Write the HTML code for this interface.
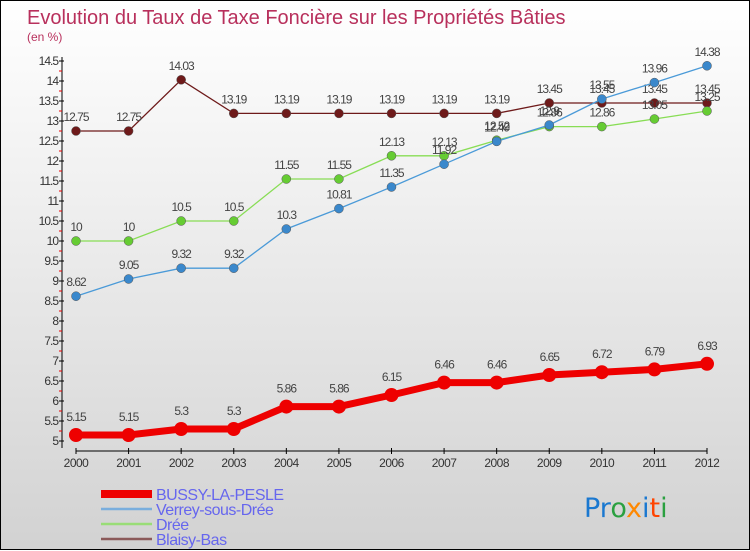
<!DOCTYPE html>
<html><head><meta charset="utf-8"><style>
html,body{margin:0;padding:0}
body{width:750px;height:550px;overflow:hidden;font-family:"Liberation Sans",sans-serif}
#wrap{position:relative;width:748px;height:548px;border:1px solid #000;background:linear-gradient(#ffffff 0%,#f2f2f2 30%,#d2d2d2 100%)}
svg{position:absolute;left:0;top:0}
</style></head><body>
<div id="wrap">
<svg id="chart" width="750" height="550">
<text x="26" y="23" font-size="20" fill="#b8305c">Evolution du Taux de Taxe Foncière sur les Propriétés Bâties</text>
<text x="26" y="40" font-size="12" fill="#b8305c">(en %)</text>
<g id="axes"></g><g id="series"></g><g id="legend"></g>
<text x="583" y="516" font-size="27" font-family="DejaVu Sans, sans-serif"><tspan fill="#1a78d0">Pr</tspan><tspan fill="#2aa040">o</tspan><tspan fill="#ff8800">x</tspan><tspan fill="#1a78d0">i</tspan><tspan fill="#ff4400">t</tspan><tspan fill="#2aa040">i</tspan></text>
</svg></div>
<script>
const years=["2000","2001","2002","2003","2004","2005","2006","2007","2008","2009","2010","2011","2012"];
const yTicks=[5,5.5,6,6.5,7,7.5,8,8.5,9,9.5,10,10.5,11,11.5,12,12.5,13,13.5,14,14.5];
const bussy=[5.15,5.15,5.3,5.3,5.86,5.86,6.15,6.46,6.46,6.65,6.72,6.79,6.93];
const verrey=[8.62,9.05,9.32,9.32,10.3,10.81,11.35,11.92,12.49,12.9,13.55,13.96,14.38];
const dree=[10,10,10.5,10.5,11.55,11.55,12.13,12.13,12.52,12.86,12.86,13.05,13.25];
const blaisy=[12.75,12.75,14.03,13.19,13.19,13.19,13.19,13.19,13.19,13.45,13.45,13.45,13.45];
const seriesNames=["BUSSY-LA-PESLE","Verrey-sous-Drée","Drée","Blaisy-Bas"];
const NS="http://www.w3.org/2000/svg";
const x=i=>75+i*(631/12);
const y=v=>440-(v-5)*40;
function mk(tag,attrs,parent){const e=document.createElementNS(NS,tag);for(const k in attrs)e.setAttribute(k,attrs[k]);parent.appendChild(e);return e;}
const axes=document.getElementById('axes');
let l=mk('line',{x1:61,y1:56,x2:61,y2:447,stroke:'#000'},axes);


l=mk('line',{x1:75,y1:450,x2:706,y2:450,stroke:'#000'},axes);


yTicks.forEach((v,i)=>{
  const yy=y(v);
  mk('line',{x1:58,y1:yy,x2:63,y2:yy,stroke:'#000'},axes);
  if(i<yTicks.length-1)mk('line',{x1:58,y1:yy-10,x2:61,y2:yy-10,stroke:'#e00'},axes);
  const t=mk('text',{x:57,y:yy+4,'font-size':12,'text-anchor':'end',fill:'#333','letter-spacing':'-1'},axes);
  t.textContent=String(v);
  
  
});
years.forEach((yr,i)=>{
  mk('line',{x1:x(i),y1:447,x2:x(i),y2:453,stroke:'#000'},axes);
  const t=mk('text',{x:x(i),y:466,'font-size':12,'text-anchor':'middle',fill:'#333','letter-spacing':'-0.5'},axes);
  t.textContent=yr;
  
  
});
const sg=document.getElementById('series');
const defs=[[blaisy,'#6e1a1a','#6e1a1a',1.3,4.5,'blaisy-bas'],[dree,'#88dd55','#66cc33',1.3,4.5,'dree'],[verrey,'#4a9ad8','#3a88cc',1.3,4.5,'verrey-sous-dree'],[bussy,'#ee0000','#ee0000',7,7,'bussy-la-pesle']];
defs.forEach(([data,lc,pc,w,r,name])=>{
  const g=mk('g',{},sg);
  
  
  const p=mk('polyline',{points:data.map((v,i)=>x(i)+','+y(v)).join(' '),fill:'none',stroke:lc,'stroke-width':w},g);
  
  
  data.forEach((v,i)=>{
    const c=mk('circle',{cx:x(i),cy:y(v),r:r,fill:pc,stroke:name==='bussy-la-pesle'?'none':'#555','stroke-width':0.5},g);
    
    
    const t=mk('text',{x:x(i),y:y(v)-(name==='bussy-la-pesle'?14:10),'font-size':12,'text-anchor':'middle',fill:'#444','letter-spacing':'-1'},g);
    t.textContent=String(v);
    
    
  });
});
const lg=document.getElementById('legend');
const lstyles=[['#ee0000',8],['#7aaedd',2.5],['#99dd77',2.5],['#8b5a5a',2.5]];
seriesNames.forEach((n,i)=>{
  const yy=493+i*15;
  const g=mk('g',{},lg);
  
  
  mk('line',{x1:100,y1:yy,x2:151,y2:yy,stroke:lstyles[i][0],'stroke-width':lstyles[i][1]},g);
  const t=mk('text',{x:155,y:yy+6,'font-size':16,fill:'#6666ee','letter-spacing':'-0.5'},g);
  t.textContent=n;
});
</script>
</body></html>
